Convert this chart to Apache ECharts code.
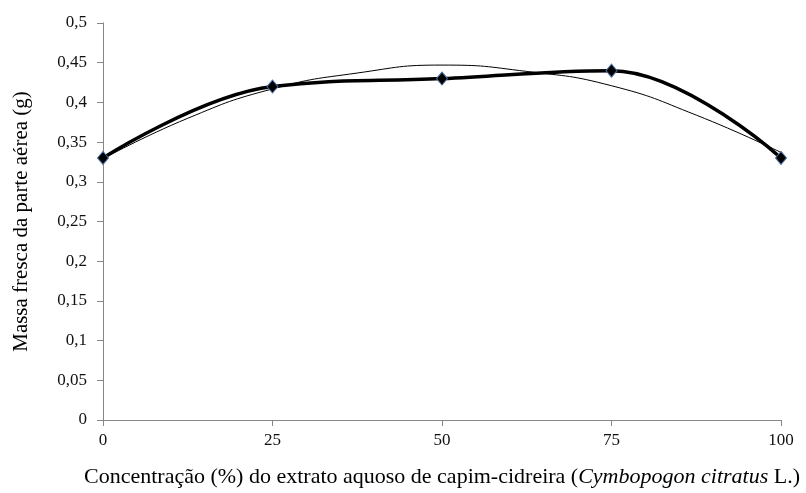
<!DOCTYPE html>
<html><head><meta charset="utf-8">
<script src="https://cdn.jsdelivr.net/npm/echarts@6/dist/echarts.min.js"></script>
<style>html,body{margin:0;padding:0;background:#fff}#c{width:806px;height:493px}</style>
</head><body><div id="c"></div>
<script>
const concentrations = [0, 25, 50, 75, 100];
const massaFresca = [0.33, 0.42, 0.43, 0.44, 0.33];
const trendX = [0, 12.5, 25, 37.5, 50, 62.5, 75, 87.5, 100];
const trendY = [0.329, 0.380, 0.417, 0.437, 0.447, 0.439, 0.421, 0.384, 0.337];
const xTicks = [0, 25, 50, 75, 100];
const yTicks = [0, 0.05, 0.1, 0.15, 0.2, 0.25, 0.3, 0.35, 0.4, 0.45, 0.5];

const chart = echarts.init(document.getElementById('c'));
const serif = '"Liberation Serif", "DejaVu Serif", serif';
chart.setOption({
  animation: false,
  grid: {left: 103, right: 25, top: 23, bottom: 69},
  xAxis: {
    type: 'value', min: 0, max: 100, interval: 25,
    name: '{n|Concentração (%) do extrato aquoso de capim-cidreira (}{i|Cymbopogon citratus}{n| L.)}',
    nameLocation: 'middle', nameGap: 46,
    nameTextStyle: {rich: {
      n: {fontFamily: serif, fontSize: 22, color: '#000'},
      i: {fontFamily: serif, fontSize: 22, color: '#000', fontStyle: 'italic'}
    }},
    axisLine: {lineStyle: {color: '#868686', width: 1}},
    axisTick: {show: true, length: 6, lineStyle: {color: '#868686'}},
    axisLabel: {fontFamily: serif, fontSize: 17, color: '#111', margin: 12,
      formatter: v => xTicks.includes(v) ? String(v) : ''},
    splitLine: {show: false}
  },
  yAxis: {
    type: 'value', min: 0, max: 0.5, interval: 0.05,
    name: 'Massa fresca da parte aérea (g)',
    nameLocation: 'middle', nameGap: 71,
    nameTextStyle: {fontFamily: serif, fontSize: 21, color: '#000'},
    axisLine: {show: true, lineStyle: {color: '#868686', width: 1}},
    axisTick: {show: true, length: 6, lineStyle: {color: '#868686'}},
    axisLabel: {fontFamily: serif, fontSize: 17, color: '#111', margin: 16,
      formatter: v => {
        const r = parseFloat(v.toFixed(2));
        return yTicks.some(t => Math.abs(t - r) < 1e-9) ? String(r).replace('.', ',') : '';
      }},
    splitLine: {show: false}
  },
  series: [
    {
      type: 'line', smooth: 0.5, symbol: 'none',
      data: trendX.map((x, i) => [x, trendY[i]]),
      lineStyle: {color: '#000', width: 1}, z: 2
    },
    {
      type: 'line', smooth: 0.4, symbol: 'diamond', symbolSize: [11, 13],
      data: concentrations.map((x, i) => [x, massaFresca[i]]),
      lineStyle: {color: '#000', width: 3.5},
      itemStyle: {color: '#000', borderColor: '#4a6fa5', borderWidth: 1},
      z: 3
    }
  ]
});
</script></body></html>
